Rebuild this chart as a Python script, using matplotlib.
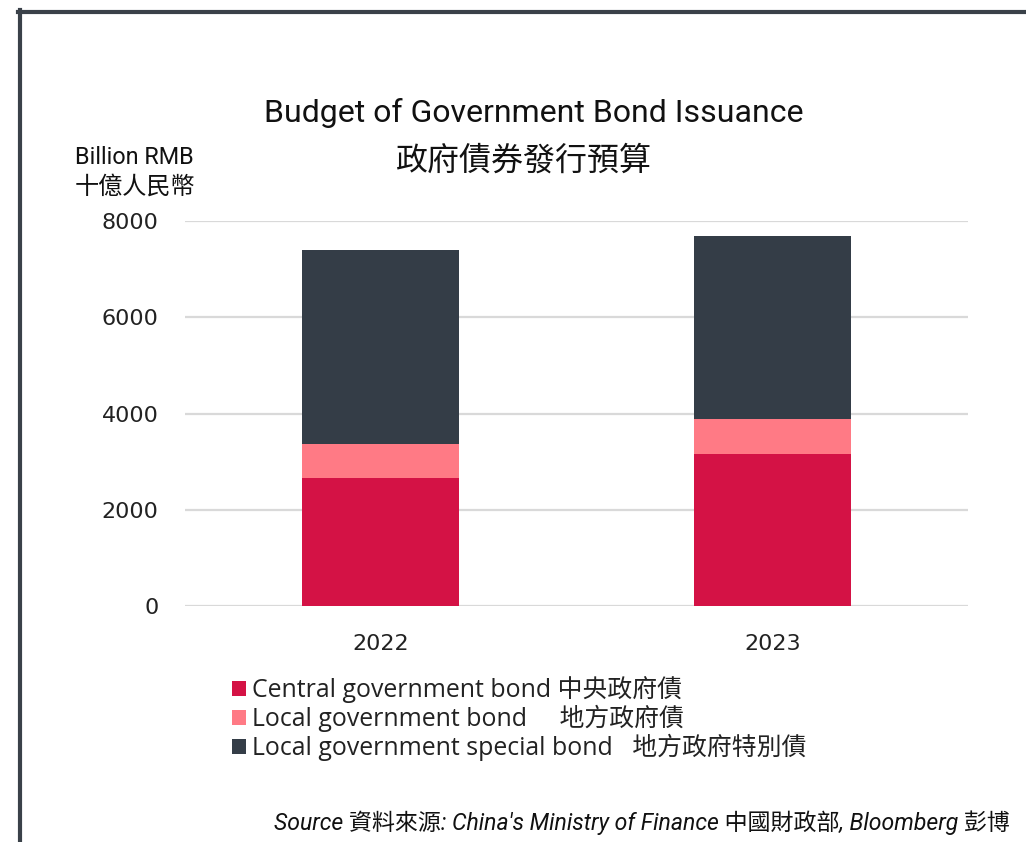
import matplotlib
matplotlib.use("Agg")
import matplotlib.pyplot as plt
from matplotlib.patches import Patch
from matplotlib.lines import Line2D
import numpy as np

# ---- data ----
years = ["2022", "2023"]
central = [2650, 3160]
local = [720, 720]
special = [4030, 3800]
series_labels = [
    "Central government bond 中央政府債",
    "Local government bond     地方政府債",
    "Local government special bond   地方政府特別債",
]
yticks = [0, 2000, 4000, 6000, 8000]

c_central = "#D41245"
c_local = "#FF7A85"
c_special = "#343D47"

OPS = ["Open Sans", "Noto Sans CJK TC", "DejaVu Sans"]
ROB = ["Roboto", "Noto Sans CJK TC", "DejaVu Sans"]
DJV = ["DejaVu Sans"]
plt.rcParams["font.family"] = OPS

fig = plt.figure(figsize=(10.26, 8.42), dpi=100)
ax = fig.add_axes([0.1803, 0.2803, 0.9435 - 0.1803, 0.7375 - 0.2803])

x = np.arange(len(years))
w = 0.4
bottom2 = np.array(central) + np.array(local)
ax.bar(x, central, width=w, color=c_central, zorder=3)
ax.bar(x, local, width=w, bottom=central, color=c_local, zorder=3)
ax.bar(x, special, width=w, bottom=bottom2, color=c_special, zorder=3)

ax.set_xlim(-0.5, 1.5)
ax.set_ylim(0, 8000)
ax.set_yticks(yticks)
ax.set_yticklabels([str(v) for v in yticks], fontsize=16, color="#222222", family=DJV)
ax.set_xticks(x)
ax.set_xticklabels(years, fontsize=16, color="#222222", family=DJV)
ax.tick_params(axis="y", length=0, pad=19)
ax.tick_params(axis="x", length=0, pad=20)
ax.yaxis.grid(True, color="#d9d9d9", linewidth=1.6, zorder=0)
for s in ax.spines.values():
    s.set_visible(False)

# titles
fig.text(534 / 1026, 1 - 113 / 842, "Budget of Government Bond Issuance",
         ha="center", va="center", fontsize=23, family=ROB, color="#111111")
fig.text(524 / 1026, 1 - 160 / 842, "政府債券發行預算",
         ha="center", va="center", fontsize=23, family=ROB, color="#111111")
fig.text(75 / 1026, 1 - 158 / 842, "Billion RMB",
         ha="left", va="center", fontsize=16.8, family=ROB, color="#111111")
fig.text(75 / 1026, 1 - 187 / 842, "十億人民幣",
         ha="left", va="center", fontsize=17.4, family=ROB, color="#111111")

# legend
handles = [Patch(facecolor=c, edgecolor="none") for c in (c_central, c_local, c_special)]
leg = fig.legend(handles, series_labels, loc="upper left",
                 bbox_to_anchor=(222 / 1026, 1 - 666 / 842), frameon=False,
                 fontsize=17.9, handlelength=0.55, handleheight=0.55,
                 handletextpad=0.25, labelspacing=0.08, borderaxespad=0)
for t in leg.get_texts():
    t.set_color("#222222")

# source
fig.text(1010 / 1026, 1 - 823 / 842,
         "Source 資料來源: China's Ministry of Finance 中國財政部, Bloomberg 彭博",
         ha="right", va="center", fontsize=16.6, style="italic", family=ROB,
         color="#111111")

# frame lines
fig.add_artist(Line2D([18 / 1026, 1.0], [1 - 12 / 842, 1 - 12 / 842],
                      transform=fig.transFigure, color="#3a4149", linewidth=3))
fig.add_artist(Line2D([20 / 1026, 20 / 1026], [0, 1 - 10 / 842],
                      transform=fig.transFigure, color="#3a4149", linewidth=3))

fig.savefig("out.png", dpi=100)
